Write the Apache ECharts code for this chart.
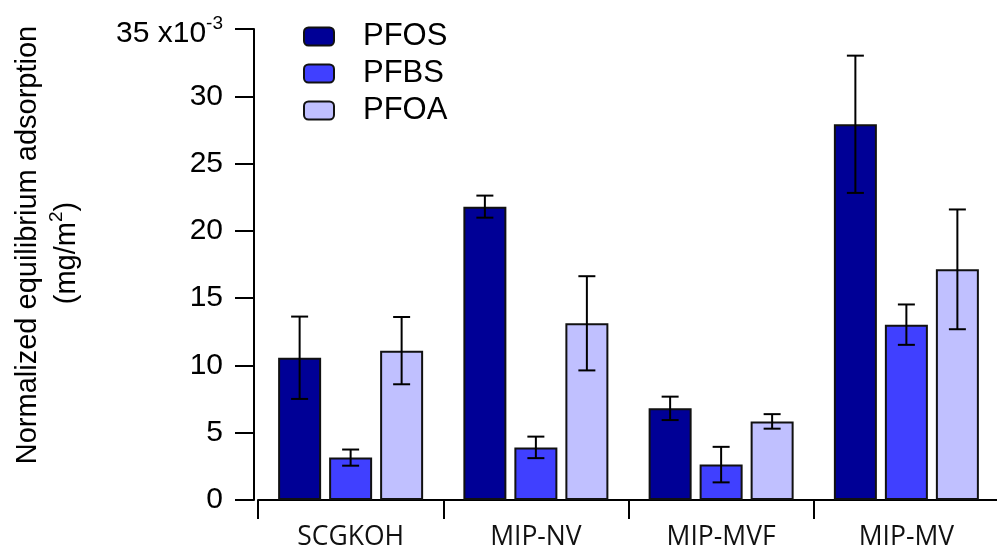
<!DOCTYPE html>
<html>
<head>
<meta charset="utf-8">
<script src="https://cdn.jsdelivr.net/npm/echarts@6/dist/echarts.min.js"></script>
<style>
html,body{margin:0;padding:0;background:#fff;}
#chart{width:997px;height:546px;}
</style>
</head>
<body>
<div id="chart"></div>
<script>
// ---- data (values in units of 10^-3 mg/m^2) ----
const categories = ['SCGKOH', 'MIP-NV', 'MIP-MVF', 'MIP-MV'];
const seriesNames = ['PFOS', 'PFBS', 'PFOA'];
const pfosValues = [10.57, 21.8, 6.81, 27.92];
const pfosErrors = [3.06, 0.82, 0.87, 5.1];
const pfbsValues = [3.15, 3.91, 2.63, 13.03];
const pfbsErrors = [0.6, 0.8, 1.32, 1.5];
const pfoaValues = [11.1, 13.13, 5.84, 17.14];
const pfoaErrors = [2.5, 3.5, 0.54, 4.45];
const yTicks = [0, 5, 10, 15, 20, 25, 30, 35];

// ---- styles ----
const colors = ['#000096', '#4040ff', '#c0c0ff'];
const BAR_W = 43, BAR_SPACE = 8, CAP = 17;
const SANS = "'Liberation Sans', Arial, sans-serif";

const valueSets = [pfosValues, pfbsValues, pfoaValues];
const errorSets = [pfosErrors, pfbsErrors, pfoaErrors];

const series = [];
seriesNames.forEach((name, k) => {
  series.push({
    name: name,
    type: 'bar',
    data: valueSets[k],
    barWidth: BAR_W,
    barGap: (BAR_SPACE / BAR_W * 100) + '%',
    itemStyle: { color: colors[k], borderColor: '#111', borderWidth: 2 },
    z: 2
  });
});
seriesNames.forEach((name, k) => {
  series.push({
    name: name + ' error',
    type: 'custom',
    z: 5,
    data: valueSets[k].map((v, i) => [i, v - errorSets[k][i], v + errorSets[k][i]]),
    renderItem: function (params, api) {
      const lo = api.coord([api.value(0), api.value(1)]);
      const hi = api.coord([api.value(0), api.value(2)]);
      const cx = lo[0] + (k - 1) * (BAR_W + BAR_SPACE);
      const st = { stroke: '#000', lineWidth: 2 };
      return {
        type: 'group',
        children: [
          { type: 'line', shape: { x1: cx, y1: hi[1], x2: cx, y2: lo[1] }, style: st },
          { type: 'line', shape: { x1: cx - CAP / 2, y1: hi[1], x2: cx + CAP / 2, y2: hi[1] }, style: st },
          { type: 'line', shape: { x1: cx - CAP / 2, y1: lo[1], x2: cx + CAP / 2, y2: lo[1] }, style: st }
        ]
      };
    }
  });
});

const chart = echarts.init(document.getElementById('chart'), null, { renderer: 'canvas' });
chart.setOption({
  backgroundColor: '#fff',
  animation: false,
  grid: { left: 258, width: 741, top: 29, bottom: 46, containLabel: false, outerBoundsMode: 'none' },
  legend: {
    data: seriesNames,
    orient: 'vertical',
    left: 303,
    top: 21,
    padding: 0,
    itemWidth: 30,
    itemHeight: 18,
    itemGap: 6,
    textStyle: { fontFamily: SANS, fontSize: 31, color: '#000', padding: [0, 0, 0, 24] }
  },
  xAxis: {
    type: 'category',
    data: categories,
    offset: 3,
    axisLine: { lineStyle: { color: '#000', width: 2 } },
    axisTick: { show: true, length: 19, lineStyle: { color: '#000', width: 2 } },
    axisLabel: { fontFamily: "'Open Sans', sans-serif", fontSize: 26.5, color: '#111', margin: 21 }
  },
  yAxis: {
    type: 'value',
    min: yTicks[0],
    max: yTicks[yTicks.length - 1],
    interval: yTicks[1] - yTicks[0],
    offset: 4,
    splitLine: { show: false },
    axisLine: { show: true, lineStyle: { color: '#000', width: 2 } },
    axisTick: { show: true, length: 19, lineStyle: { color: '#000', width: 2 } },
    axisLabel: {
      margin: 31,
      formatter: function (v) {
        if (v === yTicks[yTicks.length - 1]) return '{a|' + v + ' x10}{s|-3}';
        return '{n|' + v + '}';
      },
      rich: {
        n: { fontFamily: SANS, fontSize: 30, color: '#000' },
        a: { fontFamily: SANS, fontSize: 30, color: '#000', lineHeight: 30, padding: [10, 0, 0, 0] },
        s: { fontFamily: SANS, fontSize: 19, color: '#000', lineHeight: 19, verticalAlign: 'top' }
      }
    },
    name: '{t|Normalized equilibrium adsorption}\n{u|(mg/m}{sup|2}{v|)}',
    nameLocation: 'middle',
    nameRotate: 90,
    nameGap: 168,
    nameTextStyle: {
      padding: [0, 0, 0, 39],
      rich: {
        t: { fontFamily: SANS, fontSize: 29, color: '#000', lineHeight: 39 },
        u: { fontFamily: SANS, fontSize: 29, color: '#000', lineHeight: 39 },
        v: { fontFamily: SANS, fontSize: 29, color: '#000', lineHeight: 39, padding: [0, 16, 0, 0] },
        sup: { fontFamily: SANS, fontSize: 19, color: '#000', lineHeight: 19, verticalAlign: 'top' }
      }
    }
  },
  series: series
});
</script>
</body>
</html>
